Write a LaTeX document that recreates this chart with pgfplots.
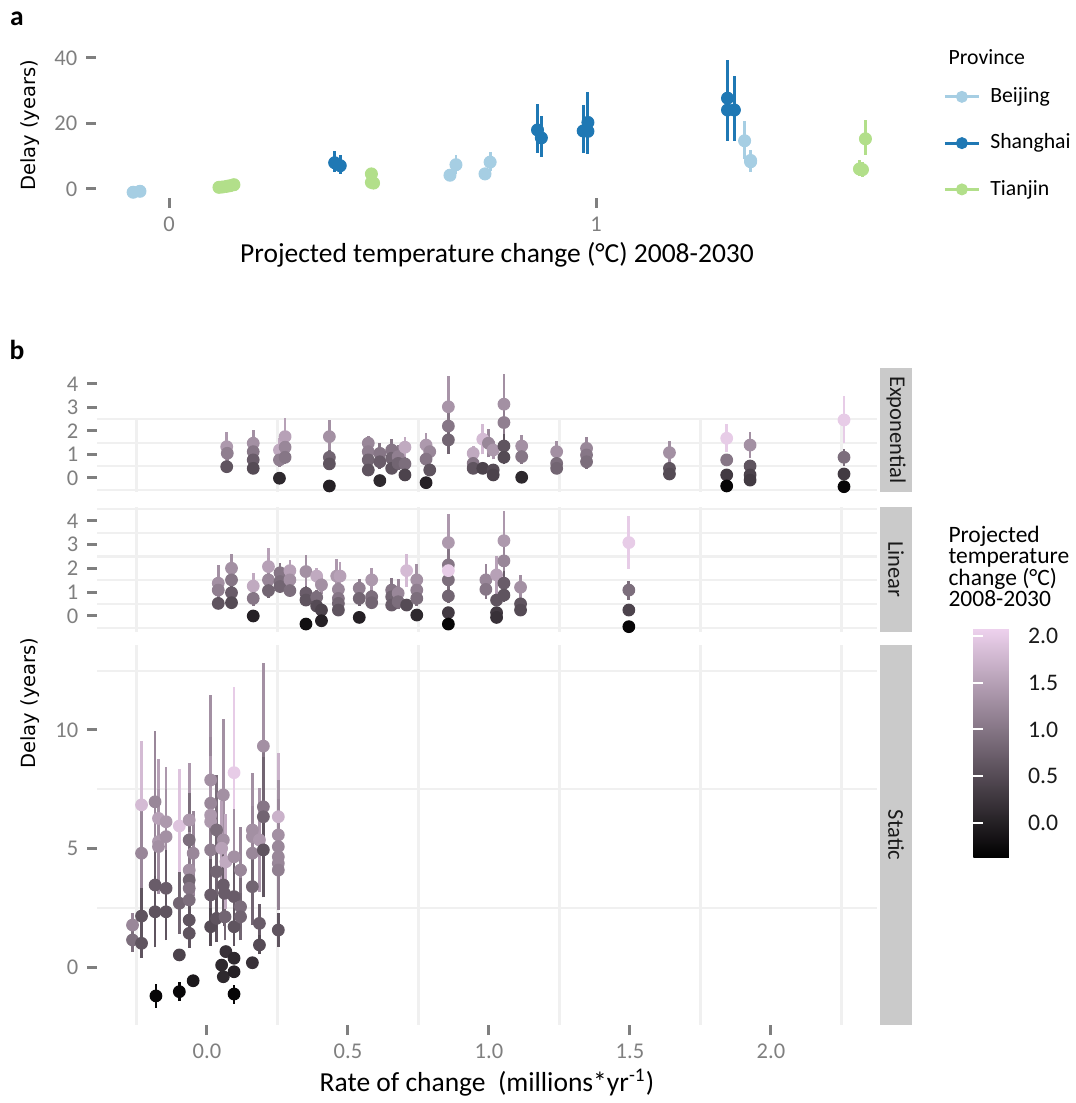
\documentclass[border=0pt]{standalone}
\usepackage{fontspec}
\setmainfont{Carlito}
\newfontfamily\verd{DejaVu Sans}
\usepackage{pgfplots}
\usepackage{pgfplotstable}
\pgfplotsset{compat=1.18}

\definecolor{beijing}{HTML}{A6CEE3}
\definecolor{shanghai}{HTML}{1F78B4}
\definecolor{tianjin}{HTML}{B2DF8A}
\definecolor{tickgray}{HTML}{7F7F7F}
\definecolor{gridgray}{HTML}{F0F0F0}
\definecolor{stripgray}{HTML}{CACACA}
\definecolor{textdark}{HTML}{1A1A1A}

\pgfplotsset{
  colormap={temp}{rgb255=(0,0,0) rgb255=(238,210,238)},
  gg/.style={
    scale only axis,
    axis line style={draw=none},
    tick align=outside,
    major tick length=4pt,
    tick style={tickgray, line width=1.2pt},
    xtick pos=left, ytick pos=left,
    tick label style={font=\fontsize{9}{10}\selectfont, text=tickgray},
    /pgf/number format/assume math mode=true,
    label style={font=\fontsize{11}{13}\selectfont, text=black},
  },
  facet/.style={
    gg,
    anchor=south west,
    width=312pt,
    xmin=-0.390, xmax=2.376,
    yminorgrids,
    minor grid style={gridgray, line width=0.9pt},
    minor tick length=0pt,
    colormap name=temp,
    point meta min=-0.375, point meta max=2.085,
    clip=false,
  },
  bars/.style={quiver={u=0, v=2*\thisrow{e}, colored=mapped color,
      every arrow/.append style={line width=1.1pt}}, point meta=explicit},
  dots/.style={scatter, only marks, mark=*, mark size=2.35pt,
      scatter/use mapped color={draw=mapped color, fill=mapped color}, point meta=explicit},
}
% vertical grid lines of a facet, drawn from #1 up to #2
\newcommand\vgrid[2]{\pgfplotsinvokeforeach{-0.25,0.25,0.75,1.25,1.75,2.25}
  {\draw[gridgray, line width=0.9pt] (axis cs:##1,#1) -- (axis cs:##1,#2);}}

% panel a: one table per province (x, delay, error up, error down)
\pgfplotstableread{
x y ep em
-0.084 -1.0 0.6 0.6
-0.068 -0.7 0.5 0.5
0.658 4.2 1.3 1.3
0.672 7.4 3.0 2.8
0.740 4.6 1.4 1.4
0.752 8.2 3.1 2.8
1.348 14.7 6.0 5.5
1.362 8.7 3.1 3.5
1.362 8.3 2.5 2.5
}\beijing
\pgfplotstableread{
x y ep em
0.388 8.0 3.7 2.9
0.401 7.1 3.4 2.6
0.863 18.0 8.0 7.0
0.872 15.6 6.8 5.9
0.970 17.7 7.9 6.7
0.981 20.3 9.3 6.0
0.981 17.6 7.5 6.8
1.308 27.7 11.6 13.1
1.308 24.1 10.3 9.5
1.324 24.1 10.4 9.5
}\shanghai
\pgfplotstableread{
x y ep em
0.117 0.5 0.6 0.6
0.125 0.6 0.5 0.5
0.135 0.8 0.6 0.6
0.143 1.0 0.6 0.6
0.152 1.3 0.7 0.7
0.474 4.6 1.3 1.3
0.474 2.0 1.2 1.2
0.479 1.8 1.0 1.0
1.617 6.1 2.6 2.2
1.624 5.9 2.3 2.3
1.631 15.3 5.9 5.0
}\tianjin

% panel b: x = rate of change, y = delay, e = half error, c = temperature change
\pgfplotstableread{
x y e c
0.070 1.33 0.64 1.4
0.072 1.05 0.40 1.1
0.070 0.48 0.20 0.6
0.164 1.48 0.56 1.3
0.164 1.12 0.40 1.0
0.164 0.77 0.30 0.7
0.164 0.41 0.20 0.5
0.257 1.19 0.50 1.6
0.257 0.77 0.30 1.1
0.257 -0.01 0.10 0.1
0.277 1.76 0.80 1.5
0.277 1.31 0.50 1.2
0.277 0.88 0.30 1.0
0.434 1.76 0.70 1.3
0.434 0.88 0.30 0.8
0.434 0.60 0.20 0.6
0.434 -0.34 0.10 0.0
0.572 1.48 0.30 1.2
0.572 1.12 0.30 1.1
0.572 0.77 0.25 0.8
0.572 0.34 0.20 0.6
0.613 1.05 0.45 1.0
0.613 0.69 0.30 0.7
0.613 -0.11 0.10 0.1
0.655 1.19 0.45 1.0
0.655 0.84 0.30 0.8
0.655 0.41 0.20 0.6
0.678 0.91 0.50 1.1
0.678 0.62 0.30 0.8
0.702 1.31 0.45 1.6
0.702 0.60 0.30 0.9
0.702 0.13 0.10 0.4
0.777 1.40 0.50 1.4
0.790 1.12 0.40 1.2
0.777 0.80 0.30 1.0
0.790 0.34 0.20 0.6
0.777 -0.20 0.10 0.0
0.856 3.03 1.30 1.35
0.856 2.21 0.80 1.0
0.856 1.62 0.60 0.8
0.944 1.05 0.30 1.6
0.944 0.62 0.20 1.0
0.944 0.41 0.20 0.6
0.978 1.65 0.65 1.8
0.978 0.41 0.20 0.4
0.998 1.48 0.60 1.2
1.015 1.19 0.40 1.4
1.015 0.34 0.20 0.5
1.015 0.13 0.15 0.4
1.053 3.14 1.30 1.3
1.053 2.36 0.90 1.1
1.053 1.36 0.50 0.6
1.053 0.88 0.30 0.5
1.116 1.36 0.45 1.3
1.116 0.91 0.30 1.0
1.116 0.03 0.10 0.1
1.240 1.12 0.45 1.3
1.240 0.62 0.30 0.9
1.240 0.41 0.20 0.8
1.346 1.26 0.50 1.2
1.346 0.98 0.40 1.0
1.346 0.69 0.30 0.9
1.640 1.08 0.50 1.3
1.640 0.41 0.20 0.6
1.640 0.17 0.15 0.5
1.843 1.69 0.60 2.0
1.843 0.77 0.20 1.0
1.843 0.13 0.10 0.3
1.843 -0.34 0.10 -0.3
1.926 1.40 0.55 1.3
1.926 0.51 0.20 0.6
1.926 0.13 0.15 0.4
1.926 -0.09 0.10 0.3
2.259 2.47 1.00 2.0
2.259 0.88 0.35 0.9
2.259 0.17 0.10 0.3
2.259 -0.37 0.10 -0.3
}\expdata

\pgfplotstableread{
x y e c
0.040 1.38 0.75 1.3
0.040 1.09 0.40 1.1
0.040 0.53 0.20 0.6
0.087 2.01 0.60 1.3
0.087 1.52 0.50 1.0
0.087 0.98 0.30 0.7
0.087 0.56 0.20 0.5
0.164 1.26 0.55 1.6
0.164 0.74 0.30 1.0
0.164 0.00 0.10 0.0
0.218 2.08 0.80 1.5
0.218 1.52 0.50 1.2
0.218 1.07 0.30 0.8
0.259 1.82 0.40 1.0
0.259 1.45 0.30 0.9
0.259 1.24 0.20 0.8
0.294 1.91 0.45 1.5
0.294 1.52 0.40 1.3
0.294 1.07 0.20 0.9
0.351 1.87 0.70 1.3
0.351 0.96 0.30 0.7
0.351 0.67 0.20 0.6
0.351 -0.34 0.10 -0.2
0.389 1.68 0.35 1.6
0.389 0.79 0.30 0.9
0.389 0.42 0.20 0.5
0.406 1.31 0.40 1.3
0.406 0.25 0.20 0.4
0.406 -0.20 0.10 0.0
0.460 1.68 0.70 1.4
0.472 1.68 0.60 1.5
0.466 1.12 0.35 1.2
0.466 0.74 0.30 1.0
0.466 0.53 0.20 0.8
0.466 0.25 0.20 0.6
0.540 1.17 0.40 1.1
0.540 0.74 0.30 0.8
0.540 -0.06 0.10 0.0
0.584 1.52 0.50 1.4
0.584 0.81 0.30 0.9
0.584 0.56 0.20 0.8
0.655 1.09 0.50 1.0
0.655 0.81 0.40 0.8
0.655 0.46 0.20 0.7
0.678 0.96 0.60 1.2
0.678 0.60 0.30 0.9
0.708 1.91 0.70 1.8
0.708 0.46 0.20 0.5
0.744 1.52 0.65 1.3
0.744 1.09 0.40 1.1
0.744 0.74 0.30 0.9
0.744 0.04 0.10 0.1
0.856 3.09 1.20 1.4
0.856 2.15 0.70 1.0
0.856 1.52 0.50 0.9
0.856 0.84 0.30 0.8
0.856 0.14 0.10 0.3
0.856 -0.34 0.10 -0.3
0.856 1.91 0.30 2.0
0.989 1.52 0.65 1.2
0.989 1.12 0.40 1.0
1.027 1.73 0.80 1.5
1.027 0.67 0.20 0.6
1.027 0.14 0.15 0.3
1.027 -0.06 0.10 0.2
1.053 3.17 1.26 1.4
1.053 2.32 0.80 1.2
1.053 1.38 0.50 0.7
1.053 0.88 0.30 0.6
1.112 1.21 0.50 1.3
1.112 0.51 0.20 0.6
1.112 0.25 0.20 0.5
1.496 3.09 1.10 2.0
1.496 1.09 0.40 0.9
1.496 0.25 0.10 0.4
1.496 -0.45 0.10 -0.3
}\lindata

\pgfplotstableread{
x y e c
-0.264 1.77 0.50 1.2
-0.264 1.14 0.50 0.9
-0.232 6.84 2.70 1.8
-0.232 4.80 2.00 1.2
-0.232 2.15 1.20 0.6
-0.232 1.00 0.60 0.6
-0.184 6.97 3.00 1.2
-0.172 6.27 2.50 1.5
-0.172 5.29 2.20 1.4
-0.172 5.08 2.00 1.3
-0.184 3.46 2.00 0.7
-0.184 2.33 1.50 0.6
-0.181 -1.22 0.50 -0.3
-0.145 6.13 2.30 1.4
-0.145 5.50 2.00 1.3
-0.145 3.32 1.60 0.7
-0.145 2.33 1.20 0.6
-0.098 5.95 2.40 1.9
-0.098 2.69 1.30 0.8
-0.098 0.51 0.20 0.4
-0.098 -1.04 0.40 -0.3
-0.063 6.20 2.40 1.4
-0.063 5.36 2.00 0.9
-0.049 4.80 1.80 1.2
-0.063 4.09 1.60 1.3
-0.063 3.67 1.50 0.8
-0.063 3.32 1.40 1.0
-0.063 2.83 1.20 0.9
-0.063 1.98 1.00 0.6
-0.063 1.42 0.60 0.6
-0.049 -0.58 0.20 -0.1
0.013 7.89 3.60 1.3
0.013 6.91 2.80 1.2
0.013 6.41 2.50 1.4
0.013 6.13 2.40 1.4
0.013 4.94 2.00 1.1
0.013 3.04 1.50 0.7
0.013 1.70 0.80 0.5
0.034 5.78 2.30 0.9
0.034 4.02 1.80 0.8
0.034 2.05 1.00 0.6
0.052 0.08 0.20 0.1
0.058 7.26 3.20 1.3
0.058 5.36 2.20 1.3
0.052 5.01 2.00 1.5
0.058 3.46 1.60 0.7
0.062 3.11 1.40 0.7
0.064 2.12 1.00 0.8
0.058 -0.41 0.20 0.1
0.067 4.44 2.00 1.6
0.067 0.65 0.20 0.2
0.096 8.20 3.60 2.0
0.096 4.65 2.00 1.3
0.096 2.97 1.40 0.7
0.096 1.70 0.80 0.6
0.096 0.37 0.20 0.1
0.096 -0.20 0.20 0.0
0.096 -1.14 0.40 -0.3
0.119 4.09 1.80 1.2
0.119 2.54 1.20 0.9
0.119 2.12 1.00 0.8
0.161 5.78 2.40 1.3
0.161 5.50 2.20 1.3
0.161 4.80 2.00 1.2
0.161 3.39 1.60 0.8
0.161 0.18 0.20 0.2
0.186 5.36 2.20 1.4
0.186 1.84 0.80 0.7
0.186 0.93 0.40 0.5
0.200 9.32 3.50 1.3
0.200 6.76 2.80 1.0
0.200 6.34 2.50 0.8
0.200 4.94 2.00 0.6
0.253 6.34 2.70 1.7
0.253 5.57 2.30 1.3
0.253 5.08 2.00 1.2
0.253 4.65 1.90 1.2
0.253 4.37 1.80 1.2
0.253 4.09 1.70 1.1
0.253 1.56 0.70 0.6
}\statdata

\begin{document}
\begin{tikzpicture}
\useasboundingbox (0,0) rectangle (430.4pt,441.2pt);

\node[font=\bfseries\fontsize{11}{13}\selectfont] at (6.8pt,433.6pt) {a};
\node[font=\bfseries\fontsize{11}{13}\selectfont] at (6.8pt,301.2pt) {b};

% ---- panel a
\begin{axis}[gg,
  at={(38.4pt,362pt)}, anchor=south west,
  width=322.4pt, height=58pt,
  xmin=-0.171, xmax=1.7166, ymin=-2.75, ymax=41.5,
  xtick={0,1}, ytick={0,20,40},
  xlabel={Projected temperature change (°C) 2008-2030},
  xlabel style={at={(axis description cs:0.4975,-0.393)}, anchor=center},
  ylabel={Delay (years)},
  ylabel style={at={(axis description cs:-0.082,0.5)}, anchor=center,
    font=\verd\fontsize{7.8}{9}\selectfont},
  clip=false,
  error bars/y dir=both, error bars/y explicit,
  error bars/error mark=none,
  error bars/error bar style={line width=1.15pt},
  legend image code/.code={\draw[line width=1.1pt] (0pt,0pt) -- (13.6pt,0pt);
    \fill (6.8pt,0pt) circle (2.2pt);},
  legend style={at={(axis description cs:1.0509,0.80)}, anchor=north west,
    draw=none, fill=none, inner sep=0pt, row sep=7pt, column sep=2pt,
    font=\fontsize{8.7}{10}\selectfont},
  legend cell align=left,
]
\addplot[beijing, only marks, mark=*, mark size=2.4pt]
  table[x=x, y=y, y error plus=ep, y error minus=em] {\beijing};
\addlegendentry{Beijing}
\addplot[shanghai, only marks, mark=*, mark size=2.4pt]
  table[x=x, y=y, y error plus=ep, y error minus=em] {\shanghai};
\addlegendentry{Shanghai}
\addplot[tianjin, only marks, mark=*, mark size=2.4pt]
  table[x=x, y=y, y error plus=ep, y error minus=em] {\tianjin};
\addlegendentry{Tianjin}
\node[anchor=west, font=\fontsize{8.7}{10}\selectfont]
  at (axis description cs:1.047,0.972) {Province};
\end{axis}

% ---- panel b, Exponential (background grid only reaches 2.5)
\begin{axis}[facet,
  at={(38.8pt,244.4pt)}, height=49.6pt,
  ymin=-0.596, ymax=4.681,
  xtick=\empty, ytick={0,1,2,3,4},
  minor ytick={-0.5,0.5,1.5,2.5},
]
\vgrid{-0.596}{2.5}
\addplot[bars] table[x=x, y expr=\thisrow{y}-\thisrow{e}, meta=c] {\expdata};
\addplot[dots] table[x=x, y=y, meta=c] {\expdata};
\fill[stripgray] (axis description cs:1.0038,0) rectangle (axis description cs:1.0449,1);
\node[rotate=-90, text=textdark, font=\fontsize{9}{10}\selectfont]
  at (axis description cs:1.0244,0.5) {Exponential};
\end{axis}

% ---- panel b, Linear
\begin{axis}[facet,
  at={(38.8pt,188.4pt)}, height=50pt,
  ymin=-0.674, ymax=4.589,
  xtick=\empty, ytick={0,1,2,3,4},
  minor ytick={-0.5,0.5,...,4.5},
]
\vgrid{-0.674}{4.589}
\addplot[bars] table[x=x, y expr=\thisrow{y}-\thisrow{e}, meta=c] {\lindata};
\addplot[dots] table[x=x, y=y, meta=c] {\lindata};
\fill[stripgray] (axis description cs:1.0038,0) rectangle (axis description cs:1.0449,1);
\node[rotate=-90, text=textdark, font=\fontsize{9}{10}\selectfont]
  at (axis description cs:1.0244,0.5) {Linear};
\end{axis}

% ---- panel b, Static
\begin{axis}[facet,
  at={(38.8pt,31.2pt)}, height=152pt,
  ymin=-2.447, ymax=13.586,
  xtick={0,0.5,1,1.5,2}, xticklabels={0.0,0.5,1.0,1.5,2.0},
  ytick={0,5,10},
  minor ytick={2.5,7.5,12.5},
  xlabel={Rate of change\ \ (millions*yr\textsuperscript{-1})},
  xlabel style={at={(axis description cs:0.5,-0.1526)}, anchor=center},
  ylabel={Delay (years)},
  ylabel style={at={(axis description cs:-0.0859,0.847)}, anchor=center,
    font=\verd\fontsize{7.8}{9}\selectfont},
  colorbar,
  colorbar style={
    at={(parent axis.north east)}, anchor=north west,
    xshift=30pt, yshift=6.8pt,
    width=18.4pt, height=92pt,
    axis line style={draw=none},
    ytick={0,0.5,1,1.5,2}, yticklabels={0.0,0.5,1.0,1.5,2.0},
    ytick pos=both, yticklabel pos=right,
    tick align=inside, major tick length=4pt,
    ytick style={white, line width=0.8pt},
    yticklabel style={font=\fontsize{9.5}{11}\selectfont, text=textdark},
    /pgf/number format/assume math mode=true,
  },
]
\vgrid{-2.447}{13.586}
\addplot[bars] table[x=x, y expr=\thisrow{y}-\thisrow{e}, meta=c] {\statdata};
\addplot[dots] table[x=x, y=y, meta=c] {\statdata};
\fill[stripgray] (axis description cs:1.0038,0) rectangle (axis description cs:1.0449,1);
\node[rotate=-90, text=textdark, font=\fontsize{9}{10}\selectfont]
  at (axis description cs:1.0244,0.5) {Static};
\end{axis}

\node[anchor=north west, align=left, inner sep=0pt,
  font=\fontsize{9.4}{8.6}\selectfont] at (379.2pt,231pt)
  {Projected\\temperature\\change (°C)\\2008-2030};
\end{tikzpicture}
\end{document}
